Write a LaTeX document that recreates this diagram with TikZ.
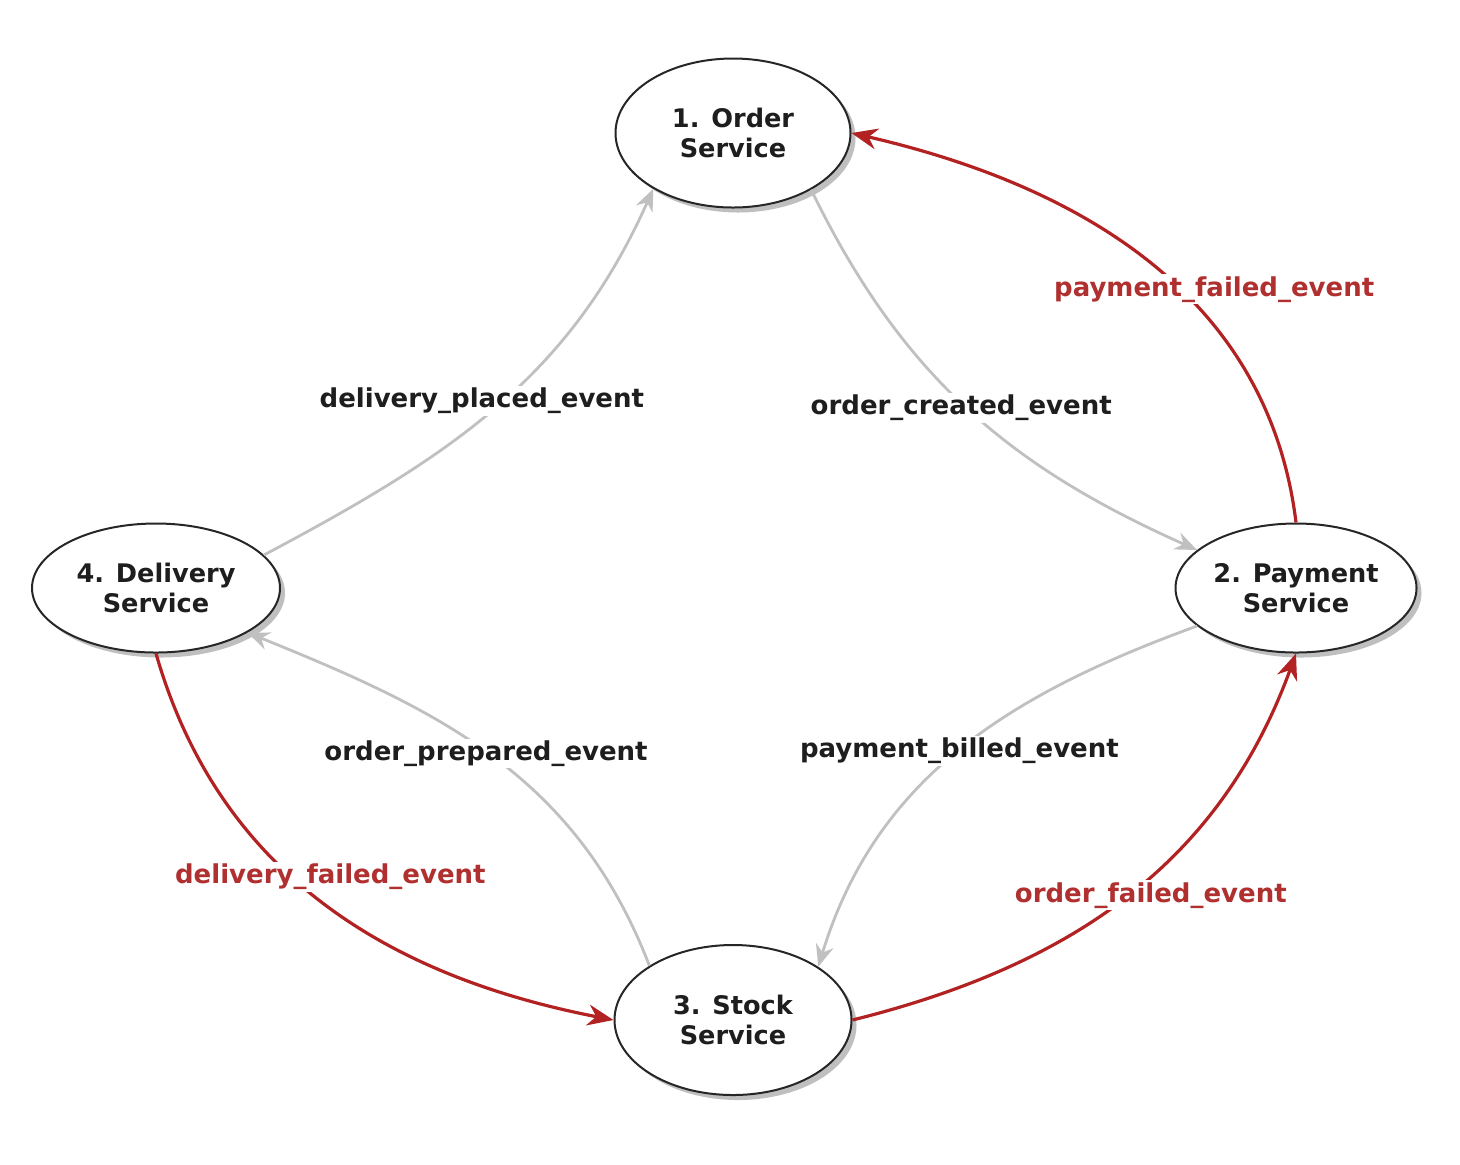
\documentclass[tikz,border=0pt]{standalone}
\usepackage{fontspec}
\setmainfont{DejaVu Sans}
\usetikzlibrary{shapes.geometric,shadows,arrows.meta}
\definecolor{failred}{HTML}{B22222}
\definecolor{failtextred}{HTML}{B03030}
\definecolor{flowgray}{HTML}{C0C0C0}
\definecolor{inkgray}{HTML}{1E1E1E}
\tikzset{
    failed/.style={draw=failred, line width=1.6pt, -{Stealth[length=13pt, width=10.5pt]}},
    failtext/.style={text=failtextred}
}
\begin{document}
\begin{tikzpicture}[x=0.5pt, y=0.5pt]
\useasboundingbox (0,0) rectangle (1460,-1164);
\begin{scope}[every node/.style={ellipse, draw=black!85, line width=1pt, fill=white, drop shadow={shadow xshift=2.5pt, shadow yshift=-2.5pt, fill=black, opacity=0.25}, align=center, text=inkgray, inner sep=0pt, font=\bfseries\fontsize{12.8}{15}\selectfont}]
    \node[minimum width=117.5pt, minimum height=74.5pt] (order) at (733,-133) {1. Order\\Service};
    \node[minimum width=120.5pt, minimum height=64.5pt] (pay) at (1296,-588) {2. Payment\\Service};
    \node[minimum width=118.5pt, minimum height=75pt] (stock) at (733,-1020) {3. Stock\\Service};
    \node[minimum width=124pt, minimum height=64.5pt] (deliv) at (156,-588) {4. Delivery\\Service};
\end{scope}
\begin{scope}[every edge/.style={draw=flowgray, line width=1.4pt, -{Stealth[length=11pt, width=9pt]}}, every node/.style={fill=white, inner sep=1pt, text=inkgray, font=\bfseries\fontsize{13}{15}\selectfont}]
    \path (order.-36) edge[out=-64, in=156] node[pos=0.5, xshift=-3pt] (lcreated) {order\_created\_event} (pay.159);
    \path (pay.-159) edge[out=200, in=73] node[pos=0.5] (lbilled) {payment\_billed\_event} (stock.32);
    \path (stock.147) edge[out=111, in=-22] node[pos=0.47, xshift=-9pt, yshift=6pt] (lprepared) {order\_prepared\_event} (deliv.-26);
    \path (deliv.17) edge[out=28, in=-114] node[pos=0.5, xshift=-7pt, yshift=3pt] (lplaced) {delivery\_placed\_event} (order.-145);
    \path (pay.north) edge[failed, out=97, in=-13] node[failtext, pos=0.4, xshift=11pt, yshift=6pt] (lpayfail) {payment\_failed\_event} (order.east);
    \path (stock.east) edge[failed, out=14, in=-110] node[failtext, pos=0.55, xshift=1pt, yshift=-9pt] (lorderfail) {order\_failed\_event} (pay.south);
    \path (deliv.south) edge[failed, out=-74, in=169] node[failtext, pos=0.43, xshift=19pt] (ldelivfail) {delivery\_failed\_event} (stock.west);
\end{scope}
\end{tikzpicture}
\end{document}
